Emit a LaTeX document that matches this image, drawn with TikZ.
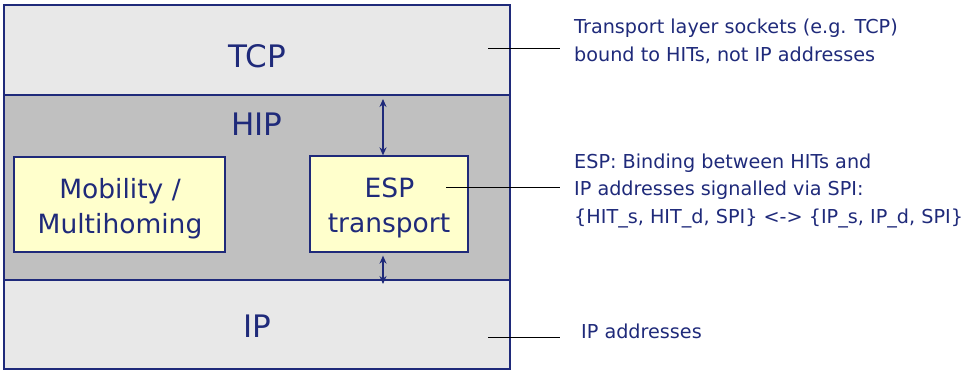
\documentclass[tikz,border=0pt]{standalone}
\usepackage{fontspec}
\setmainfont{DejaVu Sans}
\usetikzlibrary{arrows.meta}
\definecolor{navy}{HTML}{1F2A7A}
\definecolor{lgray}{HTML}{E8E8E8}
\definecolor{dgray}{HTML}{C0C0C0}
\definecolor{pale}{HTML}{FFFFCC}
\begin{document}
\begin{tikzpicture}[x=1pt,y=-1pt,
  layer/.style={draw=navy,line width=1.3pt,inner sep=0pt,minimum width=506pt},
  subbox/.style={draw=navy,fill=pale,line width=1.3pt,inner sep=0pt},
  big/.style={text=navy,font=\fontsize{31}{34}\selectfont,anchor=base,inner sep=0pt},
  mid/.style={text=navy,font=\fontsize{26.5}{30}\selectfont,anchor=base,inner sep=0pt},
  note/.style={text=navy,font=\fontsize{19.2}{22}\selectfont,anchor=base west,inner sep=0pt},
  lead/.style={draw=black,line width=0.9pt},
  dbl/.style={draw=navy,line width=1.4pt,{Stealth[length=8pt,width=7pt]}-{Stealth[length=8pt,width=7pt]}}]
\useasboundingbox (0,0) rectangle (969,370);
% layers
\node[layer,fill=lgray,minimum height=90pt] (tcp) at (257,50) {};
\node[layer,fill=dgray,minimum height=185pt] (hip) at (257,187.5) {};
\node[layer,fill=lgray,minimum height=89pt] (ip) at (257,324.5) {};
\node[big] (tcpl) at (257,67) {TCP};
\node[big] (hipl) at (257,135) {HIP};
\node[big] (ipl) at (257,337) {IP};
% sub boxes
\node[subbox,minimum width=211pt,minimum height=95pt] (mob) at (119.5,204.5) {};
\node[subbox,minimum width=158pt,minimum height=96pt] (esp) at (389,204) {};
\node[mid] (mob1) at (120,198) {Mobility /};
\node[mid] (mob2) at (120,233) {Multihoming};
\node[mid] (esp1) at (389.5,197) {ESP};
\node[mid] (esp2) at (389,232) {transport};
% arrows
\coordinate (a1) at (383,99);
\coordinate (a2) at (383,284);
\draw[dbl] (a1) -- (esp.north -| a1);
\draw[dbl] (esp.south -| a1) ++(0,3) -- (a2);
% notes
\node[note] (n1) at (574,33) {Transport layer sockets (e.g. TCP)};
\node[note] (n2) at (574,61) {bound to HITs, not IP addresses};
\node[note] (n3) at (574,168) {ESP: Binding between HITs and};
\node[note] (n4) at (574,195) {IP addresses signalled via SPI:};
\node[note] (n5) at (574,223) {\{HIT\_s, HIT\_d, SPI\} <-> \{IP\_s, IP\_d, SPI\}};
\node[note] (n6) at (581,338) {IP addresses};
\coordinate (l1a) at (488,48); \coordinate (l1b) at (560,48);
\coordinate (l2a) at (446,187); \coordinate (l2b) at (560,187);
\coordinate (l3a) at (488,337); \coordinate (l3b) at (560,337);
\draw[lead] (l1a) -- (l1b);
\draw[lead] (l2a) -- (l2b);
\draw[lead] (l3a) -- (l3b);
\end{tikzpicture}
\end{document}
